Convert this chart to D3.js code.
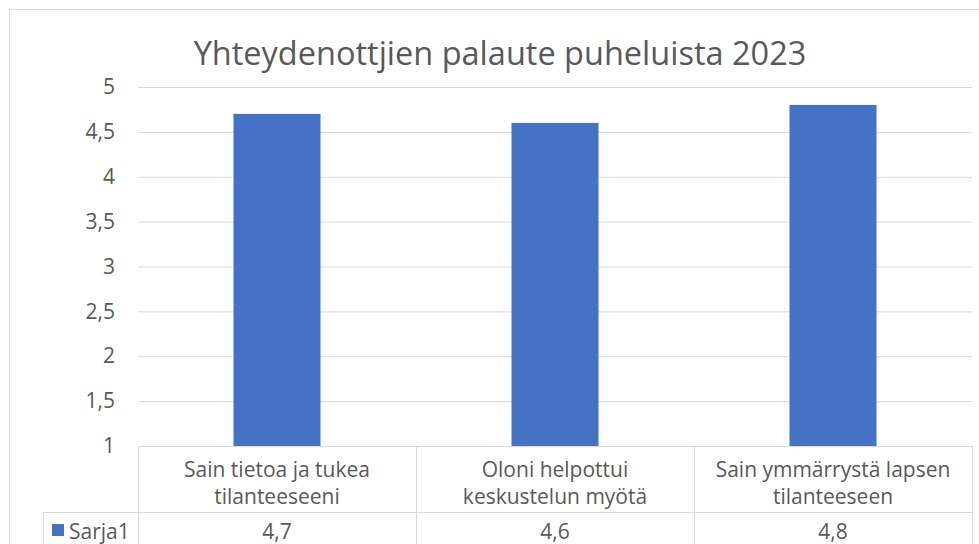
<!DOCTYPE html>
<html>
<head>
<meta charset="utf-8">
<script src="https://cdn.jsdelivr.net/npm/d3@7"></script>
<style>
  body { margin: 0; background: #fff; }
  text { font-family: "Open Sans", "Noto Sans", sans-serif; fill: #595959; }
</style>
</head>
<body>
<script>
const title = "Yhteydenottjien palaute puheluista 2023";
const categories = [
    ["Sain tietoa ja tukea", "tilanteeseeni"],
    ["Oloni helpottui", "keskustelun myötä"],
    ["Sain ymmärrystä lapsen", "tilanteeseen"]
];
const seriesName = "Sarja1";
const values = [4.7, 4.6, 4.8];
const yTicks = [1, 1.5, 2, 2.5, 3, 3.5, 4, 4.5, 5];

const width = 979, height = 544;
const plotLeft = 138, plotRight = 972, plotTop = 87, plotBottom = 446;
const gridColor = "#d9d9d9";
const barColor = "#4472c4";
const fs = "21px";

const svg = d3.select("body").append("svg")
    .attr("width", width)
    .attr("height", height);

// outer chart frame
svg.append("rect")
    .attr("x", 9.5).attr("y", 9.5)
    .attr("width", 990).attr("height", 560)
    .attr("fill", "none")
    .attr("stroke", gridColor);

const x = d3.scaleBand()
    .domain(d3.range(categories.length))
    .range([plotLeft, plotRight])
    .paddingInner(0).paddingOuter(0);

const y = d3.scaleLinear()
    .domain([1, 5])
    .range([plotBottom, plotTop]);

svg.append("text")
    .attr("x", 500).attr("y", 65)
    .attr("text-anchor", "middle")
    .style("font-size", "32.5px")
    .text(title);

// gridlines + tick labels
const yAxis = svg.append("g")
    .attr("transform", "translate(" + plotLeft + ",0)")
    .call(d3.axisLeft(y).tickValues(yTicks)
        .tickSize(-(plotRight - plotLeft))
        .tickPadding(23)
        .tickFormat(d => String(d).replace(".", ",")));
yAxis.select(".domain").remove();
yAxis.selectAll("line").attr("stroke", gridColor);
yAxis.selectAll("text")
    .style("font-size", fs)
    .style("font-family", "'Open Sans', 'Noto Sans', sans-serif")
    .attr("fill", "#595959");

// bars
const barW = 87;
svg.selectAll(".bar")
    .data(values)
    .enter().append("rect")
    .attr("class", "bar")
    .attr("x", (d, i) => x(i) + x.bandwidth() / 2 - barW / 2)
    .attr("y", d => y(d))
    .attr("width", barW)
    .attr("height", d => y(1) - y(d))
    .attr("fill", barColor);

// data table
const rowSplit = 512, legendLeft = 43;
const tbl = svg.append("g").attr("stroke", gridColor).attr("fill", "none");
tbl.append("line").attr("x1", plotLeft).attr("x2", plotRight).attr("y1", plotBottom + 0.5).attr("y2", plotBottom + 0.5);
tbl.append("line").attr("x1", legendLeft).attr("x2", plotRight).attr("y1", rowSplit + 0.5).attr("y2", rowSplit + 0.5);
tbl.append("line").attr("x1", legendLeft + 0.5).attr("x2", legendLeft + 0.5).attr("y1", rowSplit).attr("y2", height);
d3.range(categories.length + 1).forEach(i => {
    const xx = i < categories.length ? x(i) : plotRight;
    tbl.append("line")
        .attr("x1", xx + 0.5).attr("x2", xx + 0.5)
        .attr("y1", plotBottom).attr("y2", height);
});

categories.forEach((lines, i) => {
    const t = svg.append("text")
        .attr("x", x(i) + x.bandwidth() / 2)
        .attr("text-anchor", "middle")
        .style("font-size", fs);
    lines.forEach((l, j) => {
        t.append("tspan")
            .attr("x", x(i) + x.bandwidth() / 2)
            .attr("y", 477 + j * 27)
            .text(l);
    });
});

values.forEach((v, i) => {
    svg.append("text")
        .attr("x", x(i) + x.bandwidth() / 2)
        .attr("y", 539)
        .attr("text-anchor", "middle")
        .style("font-size", fs)
        .text(String(v).replace(".", ","));
});

// legend key
svg.append("rect")
    .attr("x", 52).attr("y", 524)
    .attr("width", 12).attr("height", 12)
    .attr("fill", barColor);
svg.append("text")
    .attr("x", 69).attr("y", 539)
    .style("font-size", fs)
    .text(seriesName);
</script>
</body>
</html>
